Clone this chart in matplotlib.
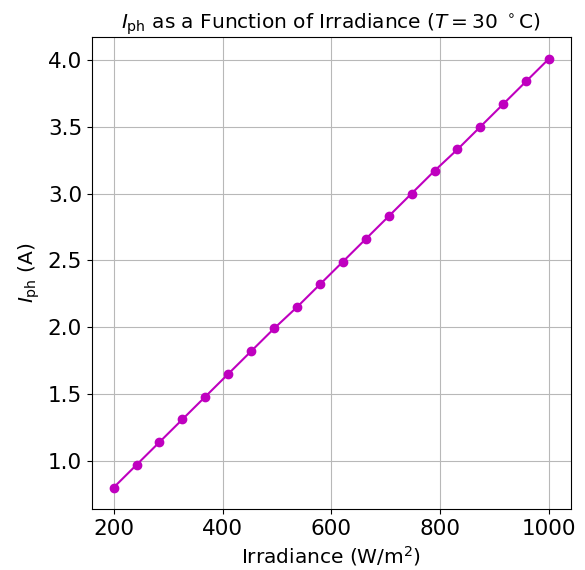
import matplotlib
matplotlib.use("Agg")
import matplotlib.pyplot as plt

# Photocurrent vs irradiance at T = 30 °C
irradiance = [200.0, 242.1, 284.2, 326.3, 368.4, 410.5, 452.6, 494.7, 536.8, 578.9,
              621.1, 663.2, 705.3, 747.4, 789.5, 831.6, 873.7, 915.8, 957.9, 1000.0]
i_ph = [0.80, 0.97, 1.14, 1.31, 1.48, 1.65, 1.82, 1.99, 2.15, 2.32,
        2.49, 2.66, 2.83, 3.00, 3.17, 3.33, 3.50, 3.67, 3.84, 4.01]

fig = plt.figure(figsize=(5.85, 5.70), dpi=100)
ax = fig.add_axes([0.157, 0.107, 0.819, 0.828])
ax.plot(irradiance, i_ph, color="m", marker="o", markersize=6, linewidth=1.5)
ax.set_title(r"$I_{\mathrm{ph}}$ as a Function of Irradiance ($T = 30\ ^\circ\mathrm{C}$)", fontsize=14.5)
ax.set_xlabel(r"Irradiance (W/m$^2$)", fontsize=14.5)
ax.set_ylabel(r"$I_{\mathrm{ph}}$ (A)", fontsize=14.5)
ax.tick_params(labelsize=15.5)
ax.set_xticks([200, 400, 600, 800, 1000])
ax.grid(True, color="#b8b8b8", linewidth=0.8)
fig.savefig("out.png", dpi=100)
